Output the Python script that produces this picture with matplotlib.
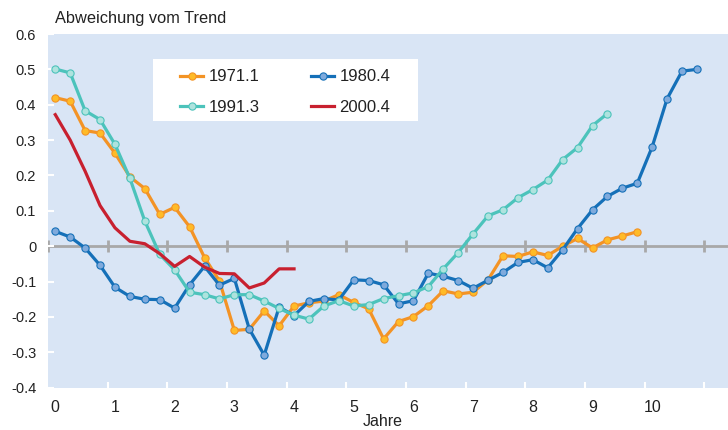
import numpy as np
import matplotlib
matplotlib.use('Agg')
import matplotlib.pyplot as plt
from matplotlib.patches import Rectangle

plt.rcParams['font.family'] = ['Liberation Sans', 'DejaVu Sans']

# quarterly deviations from trend, one value per quarter after the peak
s1971 = [0.42, 0.41, 0.327, 0.32, 0.263, 0.196, 0.163, 0.09, 0.11, 0.055,
         -0.032, -0.098, -0.238, -0.235, -0.183, -0.225, -0.169, -0.16, -0.155, -0.137,
         -0.159, -0.177, -0.262, -0.213, -0.199, -0.168, -0.126, -0.135, -0.130, -0.095,
         -0.027, -0.029, -0.016, -0.026, 0.0, 0.022, -0.005, 0.018, 0.029, 0.041]
s1980 = [0.042, 0.026, -0.005, -0.054, -0.116, -0.142, -0.150, -0.151, -0.175, -0.109,
         -0.057, -0.110, -0.091, -0.234, -0.308, -0.172, -0.196, -0.156, -0.148, -0.152,
         -0.095, -0.097, -0.109, -0.163, -0.154, -0.076, -0.085, -0.097, -0.119, -0.096,
         -0.074, -0.046, -0.038, -0.061, -0.01, 0.05, 0.103, 0.141, 0.164, 0.178,
         0.281, 0.417, 0.495, 0.5]
s1991 = [0.501, 0.49, 0.383, 0.358, 0.288, 0.192, 0.071, -0.023, -0.067, -0.13,
         -0.137, -0.149, -0.137, -0.137, -0.155, -0.176, -0.195, -0.206, -0.169, -0.154,
         -0.169, -0.165, -0.148, -0.14, -0.132, -0.114, -0.064, -0.018, 0.035, 0.086,
         0.103, 0.137, 0.16, 0.187, 0.245, 0.279, 0.341, 0.375]
s2000 = [0.372, 0.300, 0.212, 0.115, 0.052, 0.014, 0.007, -0.021, -0.057, -0.029,
         -0.059, -0.077, -0.078, -0.118, -0.104, -0.064, -0.064]

labels = ['1971.1', '1980.4', '1991.3', '2000.4']
year_ticks = list(range(0, 11))

def quarters(vals):
    return np.arange(len(vals)) * 0.25

fig = plt.figure(figsize=(7.28, 4.30), dpi=100)
ax = fig.add_axes([48 / 728, 1 - 387.7 / 430, 680 / 728, 353.7 / 430])
ax.set_facecolor('#D9E5F5')
for sp in ax.spines.values():
    sp.set_visible(False)

ax.set_xlim(-0.122, 11.27)
ax.set_ylim(-0.4, 0.6)

# zero line with gray year marks
ax.axhline(0, color='#A8A8A8', lw=2, zorder=1)
edges = np.arange(0, 12) - 0.125
ax.plot(edges, np.zeros_like(edges), ls='none', marker='|', ms=9, mew=2,
        color='#A8A8A8', zorder=1)

l1, = ax.plot(quarters(s1971), s1971, color='#F39325', lw=2.3, marker='o', ms=5.2,
              mfc='#FFBB27', mec='#F39325', mew=0.8, zorder=3)
l2, = ax.plot(quarters(s1980), s1980, color='#1570B8', lw=2.3, marker='o', ms=5.2,
              mfc='#7FAADC', mec='#1570B8', mew=0.8, zorder=4)
l3, = ax.plot(quarters(s1991), s1991, color='#4CC3BB', lw=2.3, marker='o', ms=5.2,
              mfc='#AEE3DE', mec='#4CC3BB', mew=0.8, zorder=5)
l4, = ax.plot(quarters(s2000), s2000, color='#C8202F', lw=2.3, zorder=6)

ax.set_xticks(year_ticks)
ax.set_xticklabels([str(v) for v in year_ticks])
ax.set_xticks(edges[1:], minor=True)
ax.tick_params(axis='x', which='major', length=0, pad=9, labelsize=11.5, labelcolor='#222222')
ax.tick_params(axis='x', which='minor', direction='in', length=4.5, width=1.5, color='white')

yt = np.round(np.arange(-0.4, 0.61, 0.1), 1)
ax.set_yticks(yt)
ax.set_yticklabels(['0' if v == 0 else f'{v:.1f}' for v in yt])
ax.tick_params(axis='y', direction='in', length=4.5, width=1.5, color='white',
               pad=8.5, labelsize=10.5, labelcolor='#222222')

# legend box
ax.add_patch(Rectangle((105 / 680, (387.7 - 120.7) / 353.7), 265 / 680, 61.7 / 353.7,
                       transform=ax.transAxes, facecolor='white', edgecolor='none', zorder=7))
leg = ax.legend([l1, l3, l2, l4], [labels[0], labels[2], labels[1], labels[3]],
                ncol=2, loc='upper left', bbox_to_anchor=(0.194, 0.90),
                frameon=False, borderpad=0, borderaxespad=0, fontsize=12,
                handlelength=1.4, handletextpad=0.3, columnspacing=3.1,
                labelspacing=0.93)
leg.set_zorder(8)
for t in leg.get_texts():
    t.set_color('#222222')

fig.text(55 / 728, 1 - 18 / 430, 'Abweichung vom Trend', ha='left', va='center',
         fontsize=11.8, color='#222222')
fig.text(382.7 / 728, 1 - 421.7 / 430, 'Jahre', ha='center', va='center',
         fontsize=11.5, color='#222222')

fig.savefig('out.png', dpi=100)
